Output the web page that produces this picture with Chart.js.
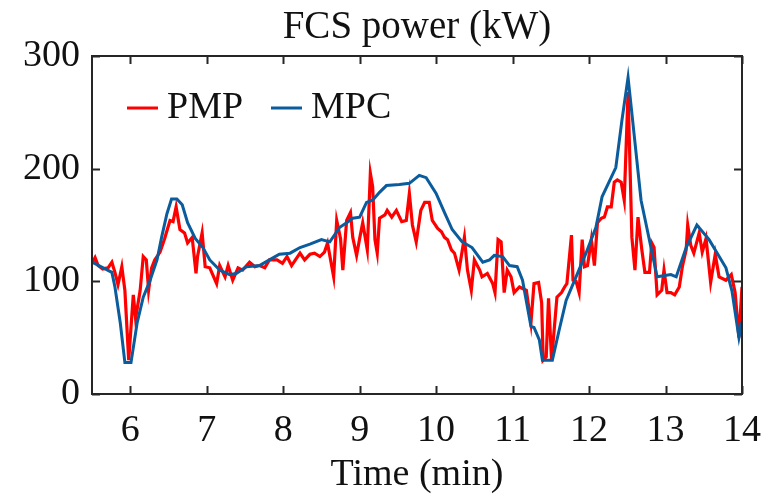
<!DOCTYPE html>
<html>
<head>
<meta charset="utf-8">
<script src="https://cdn.jsdelivr.net/npm/chart.js@4.4.1/dist/chart.umd.min.js"></script>
<style>
  html, body { margin: 0; padding: 0; background: #fff; }
  #wrap { width: 775px; height: 496px; }
</style>
</head>
<body>
<div id="wrap"><canvas id="chart" width="775" height="496"></canvas></div>
<script>
// PMP (red) - time in min, power in kW
const pmpTime = [5.50, 5.54, 5.58, 5.64, 5.71, 5.76, 5.80, 5.84, 5.89, 5.93, 5.98, 6.04, 6.07, 6.13, 6.17, 6.21, 6.24, 6.28, 6.32, 6.39,
  6.45, 6.52, 6.56, 6.60, 6.65, 6.71, 6.75, 6.81, 6.86, 6.88, 6.94, 6.98, 7.04, 7.13, 7.17, 7.24, 7.28, 7.34, 7.41, 7.47,
  7.56, 7.63, 7.69, 7.76, 7.82, 7.92, 7.99, 8.05, 8.11, 8.22, 8.28, 8.35, 8.41, 8.48, 8.54, 8.58, 8.66, 8.70, 8.75, 8.78,
  8.83, 8.88, 8.91, 8.96, 9.00, 9.04, 9.10, 9.14, 9.17, 9.20, 9.23, 9.26, 9.33, 9.36, 9.42, 9.48, 9.55, 9.61, 9.65, 9.69,
  9.74, 9.80, 9.85, 9.91, 9.95, 10.02, 10.07, 10.11, 10.15, 10.20, 10.24, 10.30, 10.37, 10.41, 10.46, 10.50, 10.57, 10.60, 10.67, 10.74,
  10.77, 10.81, 10.85, 10.89, 10.93, 10.98, 11.02, 11.09, 11.18, 11.24, 11.28, 11.34, 11.38, 11.40, 11.44, 11.47, 11.51, 11.54, 11.58, 11.64,
  11.68, 11.71, 11.77, 11.79, 11.83, 11.87, 11.91, 11.94, 11.98, 12.03, 12.07, 12.11, 12.16, 12.20, 12.24, 12.29, 12.33, 12.37, 12.42, 12.46,
  12.51, 12.56, 12.60, 12.64, 12.69, 12.73, 12.79, 12.82, 12.85, 12.89, 12.95, 12.98, 13.02, 13.07, 13.12, 13.18, 13.22, 13.27, 13.29, 13.33,
  13.37, 13.44, 13.48, 13.53, 13.59, 13.65, 13.70, 13.79, 13.86, 13.91, 13.96, 14.00]
const pmpPower = [116, 121, 114, 111, 112, 117, 108, 97, 113, 92, 30, 88, 67, 92, 122, 119, 92, 112, 119, 126,
  138, 154, 153, 166, 146, 143, 134, 139, 107, 122, 143, 113, 112, 98, 114, 104, 114, 101, 112, 110,
  117, 113, 114, 112, 119, 119, 116, 122, 114, 125, 119, 124, 125, 122, 126, 134, 104, 154, 138, 110,
  154, 161, 139, 123, 138, 152, 128, 196, 184, 137, 125, 156, 159, 163, 157, 163, 153, 154, 178, 150,
  135, 163, 170, 170, 154, 147, 144, 139, 137, 128, 125, 110, 139, 110, 92, 119, 110, 104, 107, 98,
  90, 137, 135, 90, 110, 104, 90, 95, 92, 63, 98, 99, 81, 30, 33, 85, 30, 54, 86, 90,
  95, 98, 141, 101, 100, 90, 137, 113, 114, 137, 114, 152, 156, 157, 166, 166, 188, 190, 188, 172,
  268, 139, 110, 157, 128, 108, 108, 134, 130, 88, 92, 110, 90, 90, 88, 95, 113, 128, 150, 132,
  125, 143, 126, 138, 99, 124, 104, 101, 106, 90, 50, 95]

// MPC (blue)
const mpcTime = [5.50, 5.76, 5.80, 5.87, 5.93, 6.01, 6.09, 6.17, 6.26, 6.35, 6.41, 6.48, 6.54, 6.61, 6.68, 6.75, 6.85, 6.95, 7.04, 7.17,
  7.30, 7.39, 7.52, 7.69, 7.82, 7.95, 8.09, 8.22, 8.35, 8.50, 8.61, 8.74, 8.83, 8.91, 9.00, 9.09, 9.17, 9.26, 9.35, 9.52,
  9.65, 9.78, 9.87, 10.00, 10.11, 10.21, 10.34, 10.47, 10.61, 10.70, 10.76, 10.87, 10.96, 11.06, 11.13, 11.24, 11.28, 11.35, 11.39, 11.52,
  11.61, 11.70, 11.83, 11.96, 12.09, 12.17, 12.35, 12.43, 12.51, 12.56, 12.68, 12.89, 13.07, 13.14, 13.27, 13.41, 13.57, 13.79, 13.87, 13.96, 14.00]
const mpcPower = [117, 108, 95, 63, 28, 28, 63, 86, 101, 119, 139, 160, 173, 173, 168, 152, 138, 130, 119, 110,
  106, 107, 113, 114, 119, 124, 125, 130, 133, 137, 135, 148, 152, 156, 157, 170, 172, 179, 185, 186,
  187, 194, 192, 178, 161, 146, 135, 130, 117, 119, 123, 122, 114, 113, 101, 60, 59, 48, 30, 30,
  57, 83, 104, 125, 148, 175, 201, 243, 281, 249, 172, 104, 106, 104, 130, 150, 137, 112, 91, 50, 64]

const xTicks = [6, 7, 8, 9, 10, 11, 12, 13, 14]
const yTicks = [0, 100, 200, 300]

const serif = "'Liberation Serif', 'DejaVu Serif', serif"
const ink = '#262626'

const toPoints = (xs, ys) => xs.map((x, i) => ({ x: x, y: ys[i] }))

// box around the plot, inward ticks and the legend inside the plot
const framePlugin = {
  id: 'frame',
  afterDraw(chart) {
    const { ctx, chartArea: a, scales } = chart
    ctx.save()
    ctx.strokeStyle = ink
    ctx.lineWidth = 2
    ctx.strokeRect(a.left, a.top, a.right - a.left, a.bottom - a.top)
    const len = 8
    ctx.beginPath()
    xTicks.forEach(v => {
      const px = Math.round(scales.x.getPixelForValue(v)) + 0.5
      ctx.moveTo(px, a.bottom); ctx.lineTo(px, a.bottom - len)
      ctx.moveTo(px, a.top); ctx.lineTo(px, a.top + len)
    })
    yTicks.forEach(v => {
      const py = Math.round(scales.y.getPixelForValue(v)) + 0.5
      ctx.moveTo(a.left, py); ctx.lineTo(a.left + len, py)
      ctx.moveTo(a.right, py); ctx.lineTo(a.right - len, py)
    })
    ctx.stroke()

    // legend
    ctx.font = '38px ' + serif
    ctx.fillStyle = '#111'
    ctx.textBaseline = 'alphabetic'
    ctx.lineWidth = 3
    const items = [chart.data.datasets[1], chart.data.datasets[0]]
    const xs = [[127, 158, 167], [271, 302, 311]]
    items.forEach((ds, i) => {
      ctx.strokeStyle = ds.borderColor
      ctx.beginPath()
      ctx.moveTo(xs[i][0], 108); ctx.lineTo(xs[i][1], 108)
      ctx.stroke()
      ctx.fillText(ds.label, xs[i][2], 118)
    })
    ctx.restore()
  }
}

new Chart(document.getElementById('chart'), {
  type: 'line',
  data: {
    datasets: [
      {
        label: 'MPC',
        data: toPoints(mpcTime, mpcPower),
        borderColor: '#0a5c9c',
        borderWidth: 3,
        pointRadius: 0,
        tension: 0,
        order: 0
      },
      {
        label: 'PMP',
        data: toPoints(pmpTime, pmpPower),
        borderColor: '#ff0000',
        borderWidth: 3.2,
        pointRadius: 0,
        tension: 0,
        order: 1
      }
    ]
  },
  options: {
    responsive: false,
    animation: false,
    devicePixelRatio: 1,
    layout: { padding: { left: 0, right: 32, top: 0, bottom: 0 } },
    plugins: {
      legend: { display: false },
      tooltip: { enabled: false },
      title: {
        display: true,
        fullSize: false,
        text: 'FCS power (kW)',
        color: '#111',
        font: { family: serif, size: 39, weight: 'normal', lineHeight: 1.2 },
        padding: { top: 4, bottom: 5.2 }
      }
    },
    scales: {
      x: {
        type: 'linear',
        min: 5.5,
        max: 14,
        afterBuildTicks: s => { s.ticks = xTicks.map(v => ({ value: v })) },
        afterFit: s => { s.height = 102 },
        grid: { display: false, drawTicks: false },
        border: { display: false },
        ticks: { color: '#111', padding: 14, maxRotation: 0, font: { family: serif, size: 38 } },
        title: {
          display: true,
          text: 'Time (min)',
          color: '#111',
          font: { family: serif, size: 38, lineHeight: 1 },
          padding: { top: 0, bottom: 2 }
        }
      },
      y: {
        min: 0,
        max: 300,
        afterBuildTicks: s => { s.ticks = yTicks.map(v => ({ value: v })) },
        afterFit: s => { s.width = 92 },
        grid: { display: false, drawTicks: false },
        border: { display: false },
        ticks: { color: '#111', padding: 12, font: { family: serif, size: 38 } }
      }
    }
  },
  plugins: [framePlugin]
})
</script>
</body>
</html>
